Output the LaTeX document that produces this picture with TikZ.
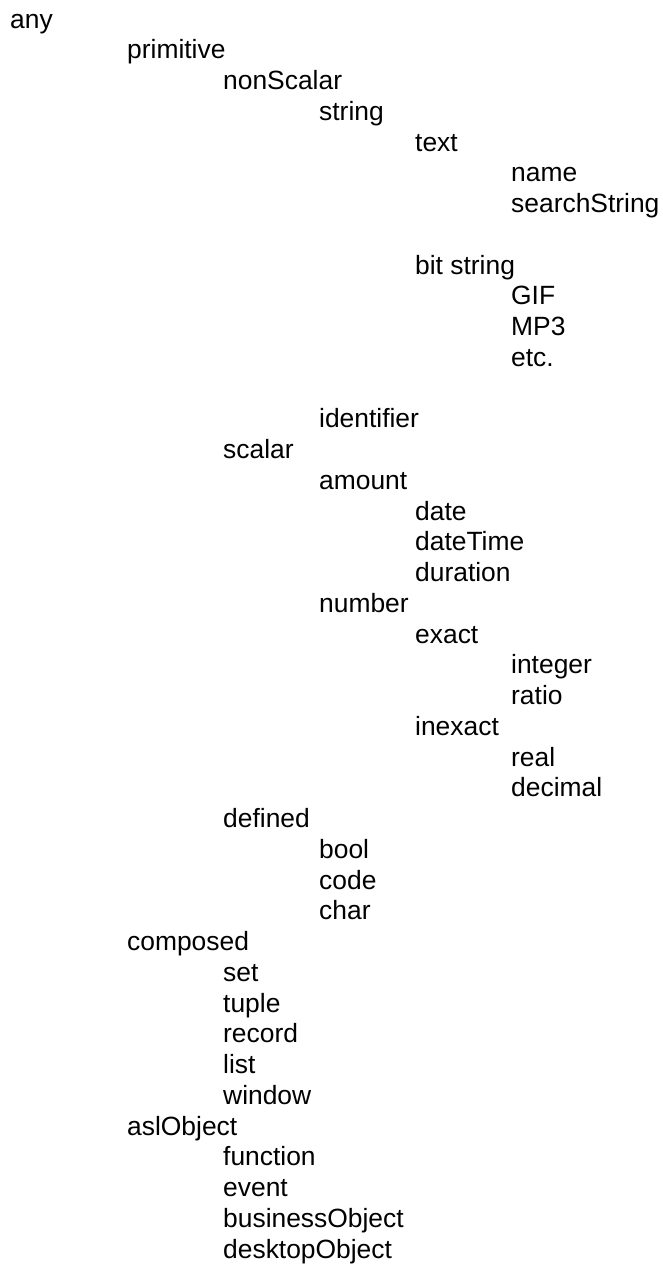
\documentclass[tikz,border=0pt]{standalone}
\usepackage{fontspec}
\setmainfont{Liberation Sans}
\begin{document}
\begin{tikzpicture}[x=1pt,y=-1pt,
  item/.style={anchor=base west, inner sep=0pt, font=\fontsize{26.4pt}{30pt}\selectfont, text=black}]
\path[use as bounding box, fill=white] (0,0) rectangle (662,1264);
\def\LA{10}\def\LB{127}\def\LC{223}\def\LD{319}\def\LE{415}\def\LF{511}
\node[item] (any) at (\LA,28) {any};
\node[item] (primitive) at (\LB,58.75) {primitive};
\node[item] (nonScalar) at (\LC,89.5) {nonScalar};
\node[item] (string) at (\LD,120.25) {string};
\node[item] (text) at (\LE,151) {text};
\node[item] (name) at (\LF,181.75) {name};
\node[item] (searchString) at (\LF,212.5) {searchString};
\node[item] (bitstring) at (\LE,274) {bit string};
\node[item] (GIF) at (\LF,304.75) {GIF};
\node[item] (MP3) at (\LF,335.5) {MP3};
\node[item] (etc) at (\LF,366.25) {etc.};
\node[item] (identifier) at (\LD,427.75) {identifier};
\node[item] (scalar) at (\LC,458.5) {scalar};
\node[item] (amount) at (\LD,489.25) {amount};
\node[item] (date) at (\LE,520) {date};
\node[item] (dateTime) at (\LE,550.75) {dateTime};
\node[item] (duration) at (\LE,581.5) {duration};
\node[item] (number) at (\LD,612.25) {number};
\node[item] (exact) at (\LE,643) {exact};
\node[item] (integer) at (\LF,673.75) {integer};
\node[item] (ratio) at (\LF,704.5) {ratio};
\node[item] (inexact) at (\LE,735.25) {inexact};
\node[item] (real) at (\LF,766) {real};
\node[item] (decimal) at (\LF,796.75) {decimal};
\node[item] (defined) at (\LC,827.5) {defined};
\node[item] (bool) at (\LD,858.25) {bool};
\node[item] (code) at (\LD,889) {code};
\node[item] (char) at (\LD,919.75) {char};
\node[item] (composed) at (\LB,950.5) {composed};
\node[item] (set) at (\LC,981.25) {set};
\node[item] (tuple) at (\LC,1012) {tuple};
\node[item] (record) at (\LC,1042.75) {record};
\node[item] (list) at (\LC,1073.5) {list};
\node[item] (window) at (\LC,1104.25) {window};
\node[item] (aslObject) at (\LB,1135) {aslObject};
\node[item] (function) at (\LC,1165.75) {function};
\node[item] (event) at (\LC,1196.5) {event};
\node[item] (businessObject) at (\LC,1227.25) {businessObject};
\node[item] (desktopObject) at (\LC,1258) {desktopObject};
\end{tikzpicture}
\end{document}
